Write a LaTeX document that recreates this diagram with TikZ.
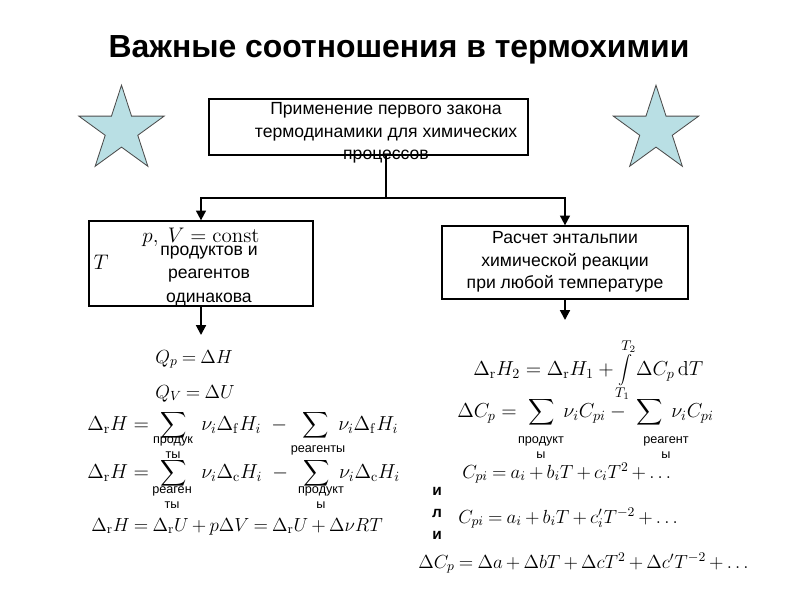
\RequirePackage{fix-cm}
\documentclass[tikz,border=0pt]{standalone}
\usepackage[no-math]{fontspec}
\setmainfont{Liberation Sans}
\usetikzlibrary{shapes.geometric,arrows.meta,fit}
\definecolor{starblue}{RGB}{185,223,228}
\newcommand{\tightmath}{\medmuskip=3mu\relax\thickmuskip=4mu\relax}
\newcommand{\bigsum}{\mathop{\vcenter{\hbox{\scalebox{1.3}{$\displaystyle\sum$}}}}}

\begin{document}
\begin{tikzpicture}[x=0.025cm,y=-0.025cm,
		frame/.style={draw,line width=0.9pt,inner sep=0pt},
		txt/.style={align=center,font=\fontsize{12.5}{16}\selectfont},
		fml/.style={anchor=base west,inner sep=0pt,font=\fontsize{14.4}{17}\selectfont},
		tight/.style={font=\fontsize{13.5}{16}\selectfont\tightmath},
		under/.style={align=center,inner sep=0pt,font=\fontsize{9}{10.6}\selectfont},
		link/.style={line width=1.4pt},
		arr/.style={line width=1.4pt,-{Triangle[length=7pt,width=7pt]}},
		deco/.style={star,star points=5,star point ratio=2.618,minimum size=2.24cm,
			inner sep=0pt,draw=black!70,fill=starblue,line width=0.6pt}]
	\useasboundingbox (0,0) rectangle (800,600);

	% title and stars
	\node[font=\bfseries\fontsize{22.7}{26}\selectfont] (title) at (399,50) {Важные соотношения в термохимии};
	\node[deco] (starL) at (121.5,130) {};
	\node[deco] (starR) at (656,130) {};

	% boxes
	\node[frame,fit={(209,99) (528,155)}] (law) {};
	\node[txt] (lawtxt) at (386,133) {Применение первого закона\\термодинамики для химических\\процессов};

	\node[frame,fit={(89,221) (313,306)}] (const) {};
	\node[inner sep=0pt,font=\fontsize{15}{17}\selectfont] (pv) at (201,237) {$p,\ V = \mathrm{const}$};
	\node[font=\fontsize{15}{17}\selectfont] (tsym) at (101,262) {$T$};
	\node[txt,font=\fontsize{12.5}{16.5}\selectfont] (same) at (209,276) {продуктов и\\реагентов\\одинакова};

	\node[frame,fit={(442,226) (688,299)}] (kirch) {};
	\node[txt] (kirchtxt) at (565,262) {Расчет энтальпии\\химической реакции\\при любой температуре};

	% connectors
	\coordinate (fork) at (386,198);
	\coordinate (constend) at (201,335);
	\coordinate (kirchend) at (565,320);
	\draw[link] (fork |- law.south) -- (fork);
	\draw[arr] (fork) -| (const.north);
	\draw[arr] (fork) -| (kirch.north);
	\draw[arr] (const.south) -- (constend);
	\draw[arr] (kirch.south) -- (kirchend);

	% left column
	\node[fml,tight] (qp) at (155,363) {$Q_p = \Delta H$};
	\node[fml,tight] (qv) at (155,398) {$Q_V = \Delta U$};
	\node[fml] (hf) at (87,430) {$\Delta_{\mathrm r} H = \ \bigsum\ \ \nu_i\Delta_{\mathrm f}H_i \ - \ \ \bigsum\ \nu_i\Delta_{\mathrm f}H_i$};
	\node[under] (prod1) at (173,448) {продук\\ты};
	\node[under] (reag1) at (318,450) {реагенты};
	\node[fml] (hc) at (87,478) {$\Delta_{\mathrm r} H = \ \bigsum\ \ \nu_i\Delta_{\mathrm c}H_i \ - \ \ \bigsum\ \nu_i\Delta_{\mathrm c}H_i$};
	\node[under] (reag2) at (172,498) {реаген\\ты};
	\node[under] (prod2) at (321,498) {продукт\\ы};
	\node[fml,tight] (hu) at (91,531) {$\Delta_{\mathrm r}H = \Delta_{\mathrm r}U + p\Delta V = \Delta_{\mathrm r}U + \Delta\nu RT$};

	% right column
	\node[fml] (tdep) at (473,375) {$\Delta_{\mathrm r}H_2 = \Delta_{\mathrm r}H_1 + \displaystyle\int\limits_{T_1}^{T_2}\Delta C_p\,\mathrm{d}T$};
	\node[fml] (dcp) at (457,417) {$\Delta C_p = \ \bigsum\ \nu_i C_{pi} - \ \bigsum\ \nu_i C_{pi}$};
	\node[under] (prod3) at (541,448) {продукт\\ы};
	\node[under] (reag3) at (666,448) {реагент\\ы};
	\node[fml,tight] (cp1) at (462,478) {$C_{pi} = a_i + b_iT + c_iT^2 + \ldots$};
	\node[font=\bfseries\fontsize{11}{15.6}\selectfont,align=center] (ili) at (437,513) {и\\л\\и};
	\node[fml,tight] (cp2) at (458,523) {$C_{pi} = a_i + b_iT + c'_iT^{-2} + \ldots$};
	\node[fml,tight] (dcp2) at (418,568) {$\Delta C_p = \Delta a + \Delta bT + \Delta cT^2 + \Delta c'T^{-2} + \ldots$};
\end{tikzpicture}
\end{document}
